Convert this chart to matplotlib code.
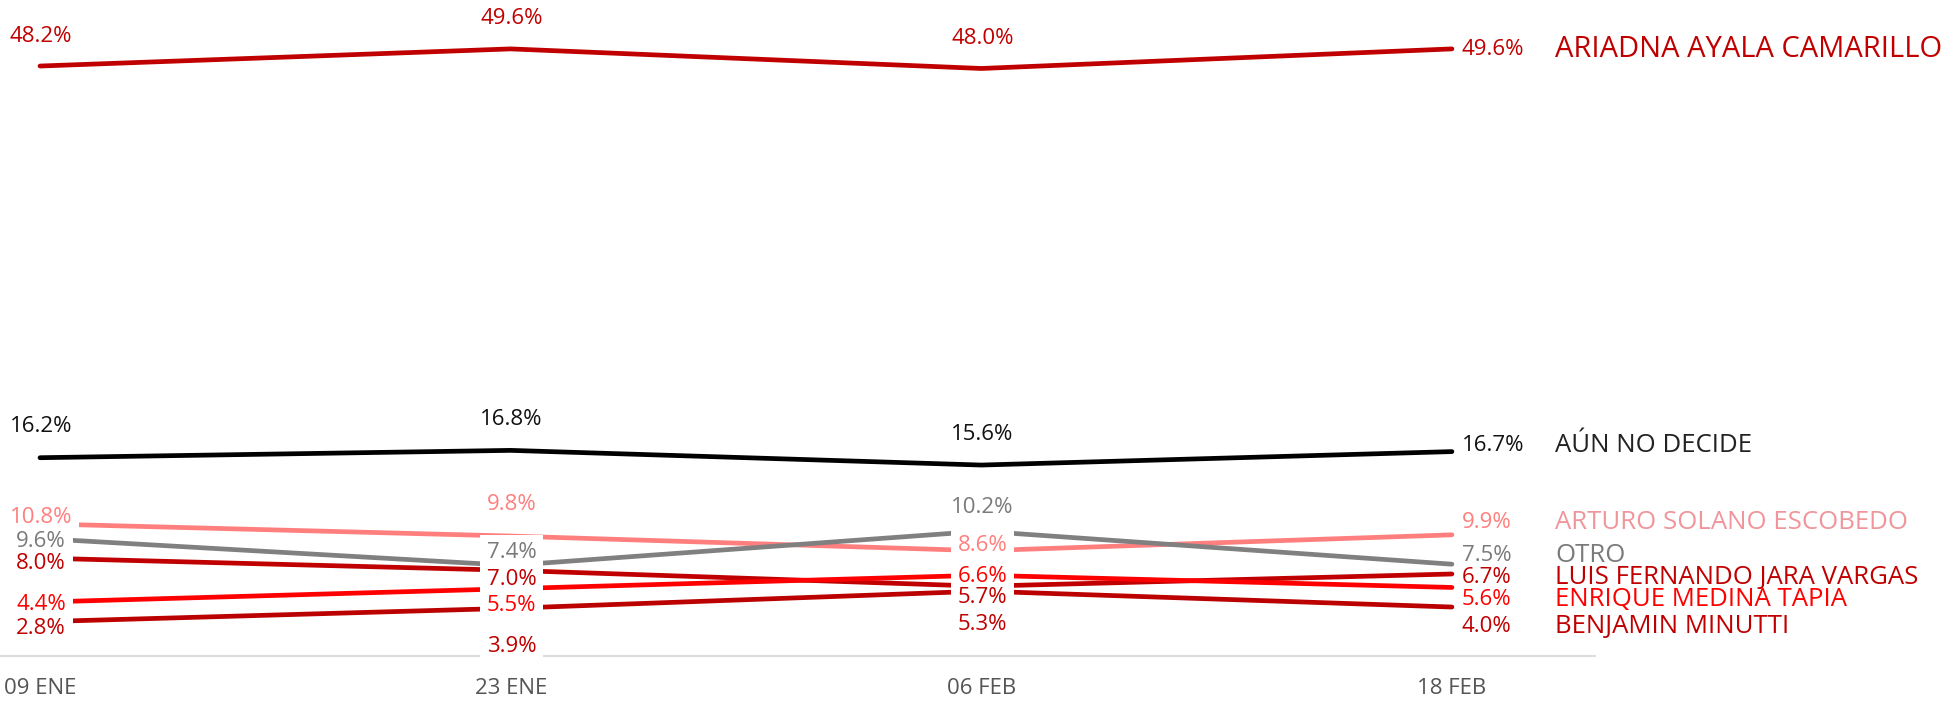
import matplotlib.pyplot as plt

# datos de la encuesta
fechas = ["09 ENE", "23 ENE", "06 FEB", "18 FEB"]
nombres = ["ARIADNA AYALA CAMARILLO", "AÚN NO DECIDE", "ARTURO SOLANO ESCOBEDO",
           "OTRO", "LUIS FERNANDO JARA VARGAS", "ENRIQUE MEDINA TAPIA", "BENJAMIN MINUTTI"]
ariadna = [48.2, 49.6, 48.0, 49.6]
no_decide = [16.2, 16.8, 15.6, 16.7]
arturo = [10.8, 9.8, 8.6, 9.9]
otro = [9.6, 7.4, 10.2, 7.5]
luis = [8.0, 7.0, 5.7, 6.7]
enrique = [4.4, 5.5, 6.6, 5.6]
benjamin = [2.8, 3.9, 5.3, 4.0]
series = [ariadna, no_decide, arturo, otro, luis, enrique, benjamin]

# estilo
colores = ["#c00000", "#000000", "#ff7f7f", "#808080", "#c00000", "#ff0000", "#bb0000"]
col_etiq = ["#c00000", "#111111", "#ff7f7f", "#7a7a7a", "#c00000", "#ff0000", "#c00000"]
col_nombre = ["#c00000", "#222222", "#f0959b", "#7a7a7a", "#c00000", "#ff0000", "#c00000"]
tam_nombre = [21, 18.5, 18.5, 18.5, 18.5, 18.5, 18.5]
# desplazamiento vertical de las etiquetas (pixeles), una fila por serie
dy = [[30, 30, 30, -1],
      [31, 31, 31, 6],
      [6.5, 31.5, 5.5, 12],
      [-3.5, 13, 23.5, 9],
      [-5, -9, -11, -4],
      [-2.5, -17, -1, -12],
      [-7, -38, -33, -19]]

plt.rcParams['font.family'] = ['Open Sans', 'DejaVu Sans']

fig = plt.figure(figsize=(19.51, 7.02), dpi=100)
ax = fig.add_axes([0, 46/702, 1595/1951, 612/702])

x = list(range(len(fechas)))
for i in range(len(series)):
    ax.plot(x, series[i], color=colores[i], lw=3.4, solid_capstyle='round', zorder=2)

for i in range(len(series)):
    for j in range(len(fechas)):
        txt = f"{series[i][j]:.1f}%"
        if j < len(fechas)-1:
            # caja blanca debajo, texto encima
            ax.annotate(txt, (x[j], series[i][j]), xytext=(1, dy[i][j]), textcoords='offset pixels',
                        ha='center', va='center', fontsize=16, color='white', alpha=0,
                        bbox=dict(boxstyle='square,pad=0.3', fc='white', ec='none', alpha=1), zorder=3)
            ax.annotate(txt, (x[j], series[i][j]), xytext=(1, dy[i][j]), textcoords='offset pixels',
                        ha='center', va='center', fontsize=16, color=col_etiq[i], zorder=4)
        else:
            ax.annotate(txt, (x[j], series[i][j]), xytext=(10, dy[i][j]), textcoords='offset pixels',
                        ha='left', va='center', fontsize=16, color=col_etiq[i], zorder=4)
            ax.annotate(nombres[i], (x[j], series[i][j]), xytext=(103, dy[i][j]), textcoords='offset pixels',
                        ha='left', va='center', fontsize=tam_nombre[i], color=col_nombre[i], zorder=4,
                        annotation_clip=False)

ax.set_xlim(-0.085, 3.304)
ax.set_ylim(0, 50)
ax.set_xticks(x)
ax.set_xticklabels(fechas, fontsize=16, color='#555555')
ax.tick_params(axis='x', length=0, pad=16)
ax.set_yticks([])
for s in ['top', 'left', 'right']:
    ax.spines[s].set_visible(False)
ax.spines['bottom'].set_color('#dddddd')
ax.spines['bottom'].set_linewidth(1.5)

plt.savefig('out.png', dpi=100)
